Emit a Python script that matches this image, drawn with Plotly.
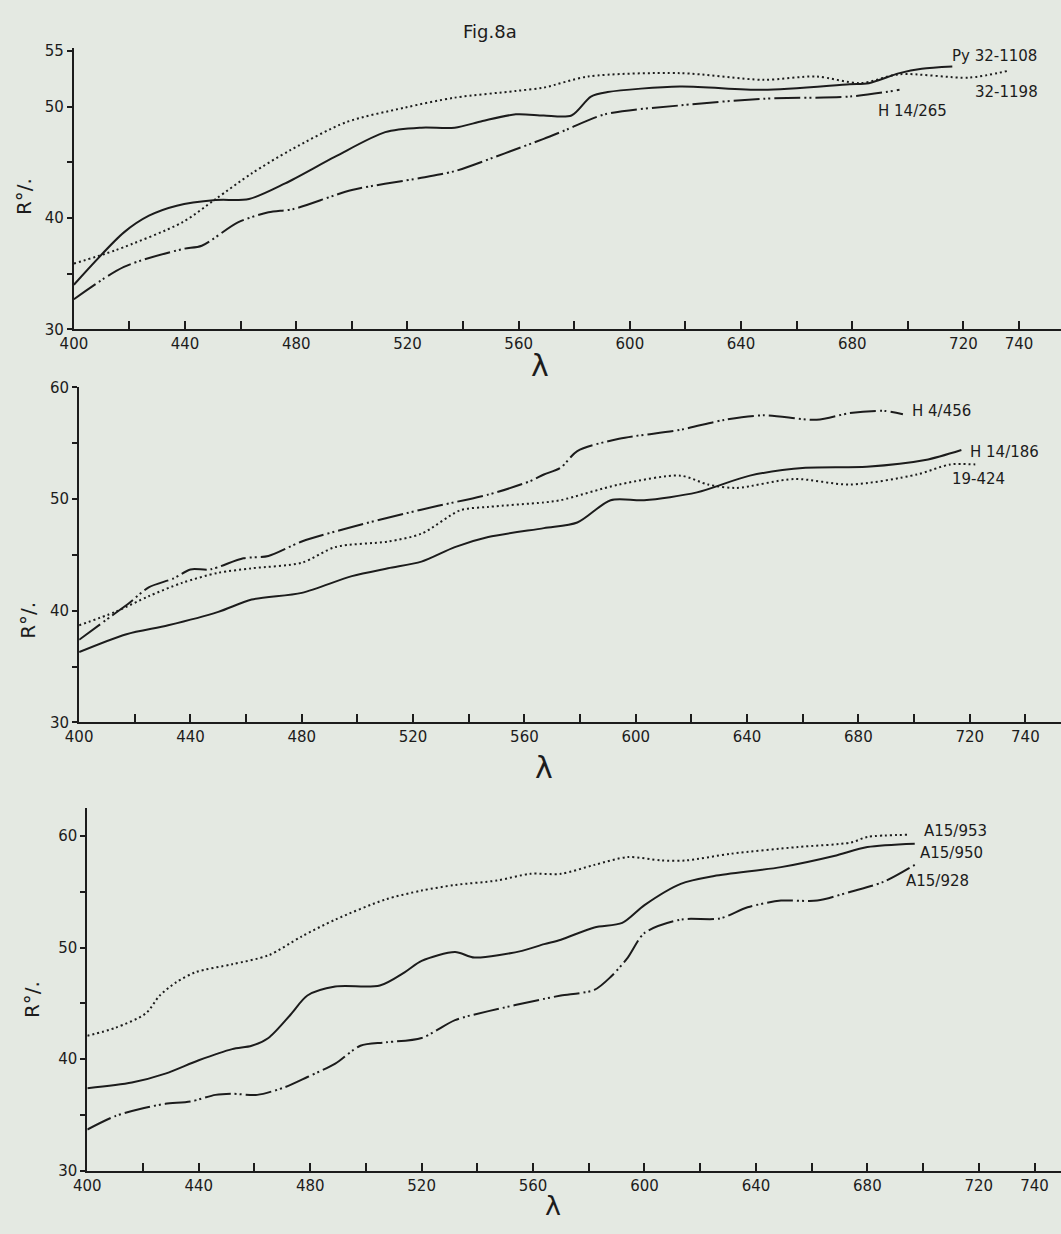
import plotly.graph_objects as go

W, H = 1061, 1234

# ---------------- data ----------------
# Panel 1
p1_py_x = [400, 418, 427, 437, 451, 463, 476, 494, 512, 525, 537, 547, 559, 569, 579, 586, 592, 618, 648, 679, 686, 697, 705, 716]
p1_py_y = [34.0, 38.7, 40.2, 41.1, 41.6, 41.7, 43.1, 45.5, 47.7, 48.1, 48.1, 48.7, 49.3, 49.2, 49.2, 50.9, 51.3, 51.8, 51.5, 52.0, 52.1, 53.0, 53.4, 53.6]
p1_32_x = [400, 415, 439, 451, 464, 478, 498, 519, 537, 559, 569, 585, 618, 648, 667, 683, 697, 722, 736]
p1_32_y = [35.9, 37.1, 39.6, 41.7, 44.0, 46.1, 48.6, 49.9, 50.8, 51.4, 51.7, 52.7, 53.0, 52.4, 52.7, 52.1, 52.9, 52.6, 53.2]
p1_h_x = [400, 418, 439, 446, 459, 470, 479, 500, 525, 537, 555, 569, 577, 591, 618, 648, 679, 697]
p1_h_y = [32.7, 35.6, 37.2, 37.5, 39.6, 40.5, 40.8, 42.5, 43.6, 44.2, 45.8, 47.1, 47.9, 49.3, 50.1, 50.7, 50.9, 51.5]

# Panel 2
p2_h4_x = [400, 412, 418, 425, 434, 440, 447, 459, 468, 480, 498, 517, 529, 547, 562, 567, 573, 579, 594, 616, 632, 646, 665, 677, 689, 696]
p2_h4_y = [37.4, 39.6, 40.7, 42.1, 42.9, 43.7, 43.7, 44.7, 44.9, 46.2, 47.5, 48.7, 49.4, 50.4, 51.6, 52.2, 52.8, 54.3, 55.4, 56.2, 57.1, 57.5, 57.1, 57.7, 57.9, 57.6]
p2_19_x = [400, 413, 425, 437, 450, 462, 480, 492, 511, 523, 537, 547, 567, 573, 594, 616, 626, 636, 657, 677, 701, 713, 722]
p2_19_y = [38.7, 39.9, 41.3, 42.5, 43.4, 43.8, 44.3, 45.7, 46.2, 46.9, 49.0, 49.3, 49.7, 49.9, 51.3, 52.1, 51.3, 51.0, 51.8, 51.3, 52.2, 53.1, 53.1]
p2_h14_x = [400, 417, 432, 450, 462, 480, 498, 511, 523, 535, 547, 567, 579, 591, 603, 622, 641, 661, 683, 704, 717]
p2_h14_y = [36.3, 37.9, 38.7, 39.9, 41.0, 41.6, 43.1, 43.8, 44.4, 45.7, 46.6, 47.4, 47.9, 49.9, 49.9, 50.6, 52.1, 52.8, 52.9, 53.5, 54.4]

# Panel 3
p3_953_x = [400, 410, 421, 426, 432, 439, 452, 465, 477, 489, 507, 520, 532, 547, 559, 570, 582, 594, 606, 615, 631, 655, 674, 680, 695]
p3_953_y = [42.1, 42.8, 44.1, 45.7, 46.9, 47.8, 48.5, 49.3, 51.0, 52.5, 54.3, 55.1, 55.6, 56.0, 56.6, 56.6, 57.4, 58.1, 57.8, 57.8, 58.4, 59.0, 59.4, 59.9, 60.1]
p3_950_x = [400, 416, 428, 440, 452, 459, 465, 473, 479, 489, 505, 514, 520, 532, 539, 556, 564, 570, 582, 592, 600, 613, 625, 649, 668, 680, 697]
p3_950_y = [37.4, 37.9, 38.7, 39.9, 40.9, 41.2, 41.9, 44.0, 45.7, 46.5, 46.6, 47.8, 48.8, 49.6, 49.1, 49.7, 50.3, 50.7, 51.8, 52.2, 53.8, 55.7, 56.4, 57.2, 58.2, 59.0, 59.3]
p3_928_x = [400, 410, 420, 428, 437, 446, 452, 461, 471, 479, 489, 498, 507, 520, 532, 544, 564, 570, 582, 588, 594, 600, 613, 627, 637, 649, 662, 674, 686, 697]
p3_928_y = [33.7, 34.9, 35.6, 36.0, 36.2, 36.8, 36.9, 36.8, 37.5, 38.4, 39.6, 41.2, 41.5, 41.9, 43.5, 44.3, 45.4, 45.7, 46.2, 47.4, 49.1, 51.3, 52.5, 52.6, 53.6, 54.2, 54.2, 55.0, 55.9, 57.4]

x_tickvals = list(range(400, 741, 20))
x_ticklabels = ["400", "", "440", "", "480", "", "520", "", "560", "", "600", "", "640", "", "680", "", "720", "740"]
y_tickvals_1 = [30, 35, 40, 45, 50, 55]
y_ticklabels_1 = ["30", "", "40", "", "50", "55"]
y_tickvals_2 = [30, 35, 40, 45, 50, 55, 60]
y_ticklabels_2 = ["30", "", "40", "", "50", "", "60"]

# ---------------- styles ----------------
INK = "#1c1c1c"
BG = "#e4e9e2"
SOLID = "solid"
DOT = "2px,3px"
DASHDOT = "26px,4px,2px,3px,2px,4px"

fig = go.Figure()

def add(x, y, dash, xa, ya, name):
    fig.add_trace(go.Scatter(x=x, y=y, mode="lines", name=name,
                             line=dict(color=INK, width=2, dash=dash, shape="spline", smoothing=0.8),
                             xaxis=xa, yaxis=ya, showlegend=False, hoverinfo="skip"))

add(p1_py_x, p1_py_y, SOLID, "x", "y", "Py 32-1108")
add(p1_32_x, p1_32_y, DOT, "x", "y", "32-1198")
add(p1_h_x, p1_h_y, DASHDOT, "x", "y", "H 14/265")

add(p2_h4_x, p2_h4_y, DASHDOT, "x2", "y2", "H 4/456")
add(p2_19_x, p2_19_y, DOT, "x2", "y2", "19-424")
add(p2_h14_x, p2_h14_y, SOLID, "x2", "y2", "H 14/186")

add(p3_953_x, p3_953_y, DOT, "x3", "y3", "A15/953")
add(p3_950_x, p3_950_y, SOLID, "x3", "y3", "A15/950")
add(p3_928_x, p3_928_y, DASHDOT, "x3", "y3", "A15/928")

FONT = dict(family="DejaVu Sans", size=15, color=INK)

def xaxis(left_px, xmax, anchor):
    return dict(domain=[left_px / W, 1.0], range=[400, xmax], anchor=anchor,
                tickmode="array", tickvals=x_tickvals, ticktext=x_ticklabels,
                showline=True, linecolor=INK, linewidth=2, ticks="inside", ticklen=8,
                tickwidth=2, tickcolor=INK, showgrid=False, zeroline=False, tickfont=FONT)

def yaxis(bottom_px, top_px, rng, tv, tt, anchor):
    return dict(domain=[1 - bottom_px / H, 1 - top_px / H], range=rng, anchor=anchor,
                tickmode="array", tickvals=tv, ticktext=tt,
                showline=True, linecolor=INK, linewidth=2, ticks="outside", ticklen=5,
                tickwidth=2, tickcolor=INK, showgrid=False, zeroline=False, tickfont=FONT)

layout = dict(
    width=W, height=H, margin=dict(l=0, r=0, t=0, b=0),
    paper_bgcolor=BG, plot_bgcolor=BG,
    xaxis=xaxis(60.7, 755.1, "y"),
    yaxis=yaxis(325, 40, [30, 55.22], y_tickvals_1, y_ticklabels_1, "x"),
    xaxis2=xaxis(66, 752.8, "y2"),
    yaxis2=yaxis(724, 384, [30, 60], y_tickvals_2, y_ticklabels_2, "x2"),
    xaxis3=xaxis(74.3, 749.5, "y3"),
    yaxis3=yaxis(1179, 811, [30, 62.48], y_tickvals_2, y_ticklabels_2, "x3"),
)
fig.update_layout(**layout)

ann = []
def lab(text, x, y, xr, yr):
    ann.append(dict(text=text, x=x, y=y, xref=xr, yref=yr, xanchor="left", yanchor="middle",
                    showarrow=False, font=FONT))

lab("Py 32-1108", 715, 54.5, "x", "y")
lab("32-1198", 723.5, 51.3, "x", "y")
lab("H 14/265", 688.7, 49.6, "x", "y")
lab("H 4/456", 698.6, 57.9, "x2", "y2")
lab("H 14/186", 719.5, 54.2, "x2", "y2")
lab("19-424", 712.8, 51.8, "x2", "y2")
lab("A15/953", 699.6, 60.4, "x3", "y3")
lab("A15/950", 698, 58.5, "x3", "y3")
lab("A15/928", 693, 56.0, "x3", "y3")

def ptext(text, px, py, size, angle=0):
    ann.append(dict(text=text, x=px / W, y=1 - py / H, xref="paper", yref="paper",
                    xanchor="center", yanchor="middle", showarrow=False, textangle=angle,
                    font=dict(family="DejaVu Sans", size=size, color=INK)))

ptext("Fig.8a", 482, 23, 18)
ptext("λ", 533, 362, 30)
ptext("λ", 537, 770, 30)
ptext("λ", 546, 1214, 27)
ptext("R°/.", 10, 190, 20, -90)
ptext("R°/.", 14, 620, 20, -90)
ptext("R°/.", 19, 1005, 20, -90)

fig.update_layout(annotations=ann)
fig.write_html("out.html", config={"displayModeBar": False},
               post_script="document.body.style.margin='0';document.body.style.overflow='hidden';")
